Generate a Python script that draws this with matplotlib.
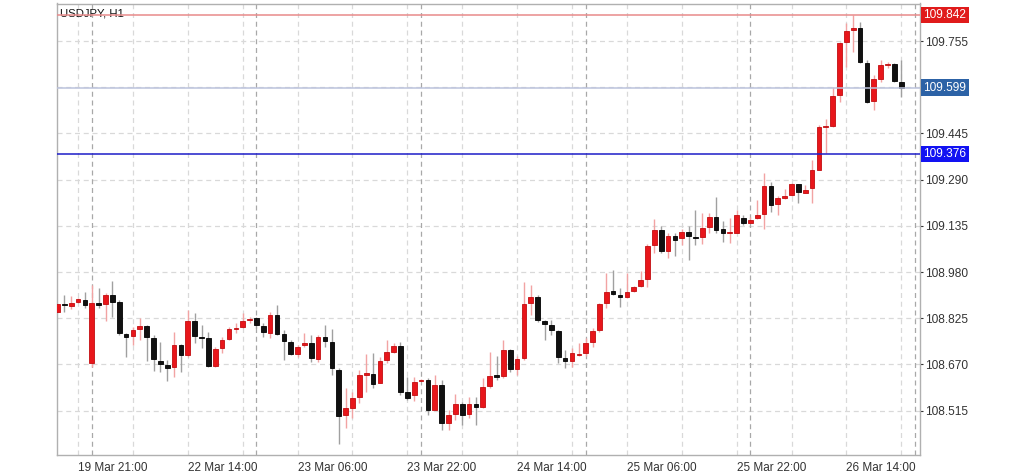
import numpy as np
import matplotlib
matplotlib.use("Agg")
import matplotlib.pyplot as plt
import matplotlib.transforms as mtransforms

plt.rcParams['font.family'] = ['Liberation Sans', 'DejaVu Sans']

# USDJPY H1, 19 Mar 18:00 .. 26 Mar 22:00 (124 bars)
opens = [
    108.846, 108.873, 108.867, 108.879, 108.886, 108.676, 108.877, 108.873, 108.903, 108.880,
    108.772, 108.765, 108.788, 108.799, 108.757, 108.682, 108.669, 108.660, 108.735, 108.701,
    108.817, 108.763, 108.757, 108.666, 108.726, 108.756, 108.789, 108.794, 108.818, 108.825,
    108.799, 108.776, 108.836, 108.772, 108.746, 108.704, 108.735, 108.741, 108.689, 108.762,
    108.746, 108.651, 108.500, 108.525, 108.559, 108.635, 108.639, 108.607, 108.685, 108.710,
    108.732, 108.577, 108.567, 108.615, 108.617, 108.518, 108.602, 108.474, 108.502, 108.537,
    108.503, 108.537, 108.528, 108.597, 108.631, 108.631, 108.718, 108.654, 108.690, 108.875,
    108.897, 108.815, 108.802, 108.782, 108.692, 108.681, 108.702, 108.707, 108.746, 108.785,
    108.875, 108.916, 108.903, 108.895, 108.917, 108.934, 108.955, 109.070, 109.120, 109.050,
    109.100, 109.094, 109.114, 109.098, 109.096, 109.131, 109.165, 109.123, 109.110, 109.112,
    109.160, 109.145, 109.161, 109.174, 109.268, 109.208, 109.230, 109.238, 109.274, 109.246,
    109.261, 109.322, 109.466, 109.469, 109.574, 109.752, 109.792, 109.800, 109.683, 109.554,
    109.627, 109.675, 109.678, 109.618]
highs = [
    108.876, 108.903, 108.899, 108.893, 108.914, 108.936, 108.926, 108.909, 108.950, 108.886,
    108.775, 108.796, 108.826, 108.802, 108.769, 108.746, 108.685, 108.780, 108.738, 108.852,
    108.842, 108.802, 108.780, 108.729, 108.763, 108.796, 108.809, 108.843, 108.828, 108.828,
    108.809, 108.847, 108.869, 108.785, 108.752, 108.735, 108.774, 108.769, 108.769, 108.802,
    108.788, 108.657, 108.590, 108.578, 108.651, 108.705, 108.707, 108.694, 108.752, 108.741,
    108.746, 108.629, 108.629, 108.621, 108.623, 108.634, 108.617, 108.517, 108.571, 108.545,
    108.561, 108.559, 108.624, 108.713, 108.698, 108.752, 108.721, 108.698, 108.947, 108.936,
    108.903, 108.819, 108.819, 108.785, 108.718, 108.724, 108.743, 108.757, 108.791, 108.875,
    108.976, 108.987, 108.925, 108.978, 108.933, 108.984, 109.073, 109.157, 109.134, 109.110,
    109.112, 109.125, 109.134, 109.188, 109.179, 109.177, 109.231, 109.151, 109.162, 109.188,
    109.171, 109.165, 109.221, 109.311, 109.283, 109.235, 109.260, 109.280, 109.277, 109.272,
    109.356, 109.474, 109.495, 109.600, 109.753, 109.814, 109.842, 109.820, 109.691, 109.641,
    109.691, 109.685, 109.682, 109.691]
lows = [
    108.842, 108.846, 108.856, 108.876, 108.859, 108.662, 108.859, 108.817, 108.830, 108.769,
    108.696, 108.735, 108.752, 108.682, 108.649, 108.645, 108.615, 108.629, 108.645, 108.696,
    108.742, 108.725, 108.660, 108.661, 108.709, 108.752, 108.775, 108.791, 108.810, 108.791,
    108.763, 108.757, 108.769, 108.685, 108.701, 108.696, 108.729, 108.679, 108.679, 108.729,
    108.634, 108.403, 108.455, 108.489, 108.541, 108.578, 108.590, 108.606, 108.674, 108.707,
    108.567, 108.550, 108.548, 108.614, 108.500, 108.517, 108.450, 108.450, 108.484, 108.466,
    108.490, 108.465, 108.523, 108.590, 108.617, 108.623, 108.645, 108.634, 108.685, 108.836,
    108.813, 108.752, 108.769, 108.674, 108.659, 108.662, 108.699, 108.699, 108.729, 108.780,
    108.858, 108.903, 108.864, 108.892, 108.914, 108.931, 108.931, 109.043, 109.043, 109.026,
    109.034, 109.070, 109.021, 109.070, 109.074, 109.111, 109.111, 109.080, 109.077, 109.110,
    109.138, 109.143, 109.157, 109.124, 109.183, 109.171, 109.224, 109.235, 109.211, 109.244,
    109.211, 109.322, 109.378, 109.467, 109.551, 109.669, 109.719, 109.680, 109.546, 109.523,
    109.618, 109.663, 109.618, 109.568]
closes = [
    108.873, 108.869, 108.877, 108.889, 108.870, 108.875, 108.870, 108.903, 108.880, 108.774,
    108.763, 108.785, 108.800, 108.761, 108.688, 108.671, 108.659, 108.735, 108.701, 108.817,
    108.766, 108.759, 108.666, 108.723, 108.751, 108.788, 108.792, 108.817, 108.822, 108.803,
    108.779, 108.836, 108.772, 108.748, 108.704, 108.728, 108.741, 108.692, 108.763, 108.749,
    108.657, 108.498, 108.523, 108.558, 108.633, 108.640, 108.605, 108.681, 108.710, 108.731,
    108.578, 108.558, 108.611, 108.619, 108.518, 108.602, 108.473, 108.500, 108.537, 108.499,
    108.537, 108.528, 108.595, 108.631, 108.629, 108.718, 108.654, 108.688, 108.872, 108.897,
    108.819, 108.805, 108.785, 108.696, 108.682, 108.709, 108.706, 108.741, 108.782, 108.872,
    108.914, 108.906, 108.895, 108.912, 108.930, 108.952, 109.067, 109.120, 109.049, 109.100,
    109.087, 109.114, 109.100, 109.095, 109.128, 109.165, 109.121, 109.110, 109.112, 109.171,
    109.145, 109.156, 109.171, 109.268, 109.205, 109.228, 109.235, 109.274, 109.247, 109.255,
    109.322, 109.467, 109.468, 109.570, 109.750, 109.789, 109.800, 109.685, 109.551, 109.626,
    109.674, 109.679, 109.621, 109.599]

# time axis labels (every 16 bars, first one on bar 3)
time_labels = ['19 Mar 21:00', '22 Mar 14:00', '23 Mar 06:00', '23 Mar 22:00',
               '24 Mar 14:00', '25 Mar 06:00', '25 Mar 22:00', '26 Mar 14:00']
label_bars = [3, 19, 35, 51, 67, 83, 99, 115]
day_start_bars = [5, 29, 53, 77, 101, 125]

# horizontal levels on the chart
level_high = 109.842
level_bid = 109.599
level_blue = 109.376
price_ticks = [108.515, 108.670, 108.825, 108.980, 109.135, 109.290, 109.445, 109.600, 109.755]

o = np.array(opens)
h = np.array(highs)
l = np.array(lows)
c = np.array(closes)
x = np.arange(len(o))
up = c >= o

fig = plt.figure(figsize=(10.24, 4.74), dpi=100)
ax = fig.add_axes([57/1024, 19/474, 863/1024, 451.5/474])

# grid
for p in price_ticks:
    ax.axhline(p, color='#d9d9d9', lw=0.9, ls=(0, (4, 3)), zorder=0)
for b in range(3, 126, 8):
    ax.axvline(b, color='#d9d9d9', lw=0.9, ls=(0, (4, 3)), zorder=0)
for b in day_start_bars:
    ax.axvline(b, color='#a8a8a8', lw=0.9, ls=(0, (4, 3)), zorder=0)

# wicks
ax.vlines(x[up], l[up], h[up], color='#f2a3a3', lw=1.0, zorder=2)
ax.vlines(x[~up], l[~up], h[~up], color='#a0a0a0', lw=1.0, zorder=2)

# bodies
body_lo = np.minimum(o, c)
body_h = np.maximum(np.abs(c - o), 0.004)
ax.bar(x[up], body_h[up], bottom=body_lo[up], width=0.68,
       color='#e8161b', edgecolor='#c20d10', lw=0.6, zorder=3)
ax.bar(x[~up], body_h[~up], bottom=body_lo[~up], width=0.68,
       color='#111111', edgecolor='#000000', lw=0.6, zorder=3)

# level lines
ax.axhline(level_high, color='#e88a8a', lw=1.1, zorder=4)
ax.axhline(level_bid, color='#bcc3dd', lw=1.1, zorder=4)
ax.axhline(level_blue, color='#1d1dc8', lw=1.1, zorder=4)

ax.set_xlim(-0.07, 125.73)
ax.set_ylim(108.366, 109.881)

ax.yaxis.tick_right()
ax.set_yticks(price_ticks)
ax.set_yticklabels(['' if p == 109.600 else f'{p:.3f}' for p in price_ticks])
ax.tick_params(axis='y', labelsize=8.6, colors='#333333', length=2, width=0.8, pad=1.5)
ax.set_xticks(label_bars)
ax.set_xticklabels(time_labels)
for t in ax.get_xticklabels():
    t.set_horizontalalignment('left')
ax.tick_params(axis='x', labelsize=8.5, colors='#333333', length=0, pad=5)

for s in ax.spines.values():
    s.set_color('#b0b0b0')
    s.set_linewidth(1.0)

# price tags on the right axis
trans = mtransforms.blended_transform_factory(ax.transAxes, ax.transData)
for val, col in [(level_high, '#e01b1b'), (level_bid, '#2c62a6'), (level_blue, '#1212f2')]:
    ax.text(1.004, val, f'{val:.3f}', transform=trans, ha='left', va='center',
            fontsize=8.6, color='white', zorder=6, clip_on=False,
            bbox=dict(boxstyle='square,pad=0.18', facecolor=col, edgecolor='none'))

ax.text(0.004, 0.99, 'USDJPY, H1', transform=ax.transAxes, ha='left', va='top',
        fontsize=8.2, color='#111111')

fig.savefig('out.png', dpi=100)
